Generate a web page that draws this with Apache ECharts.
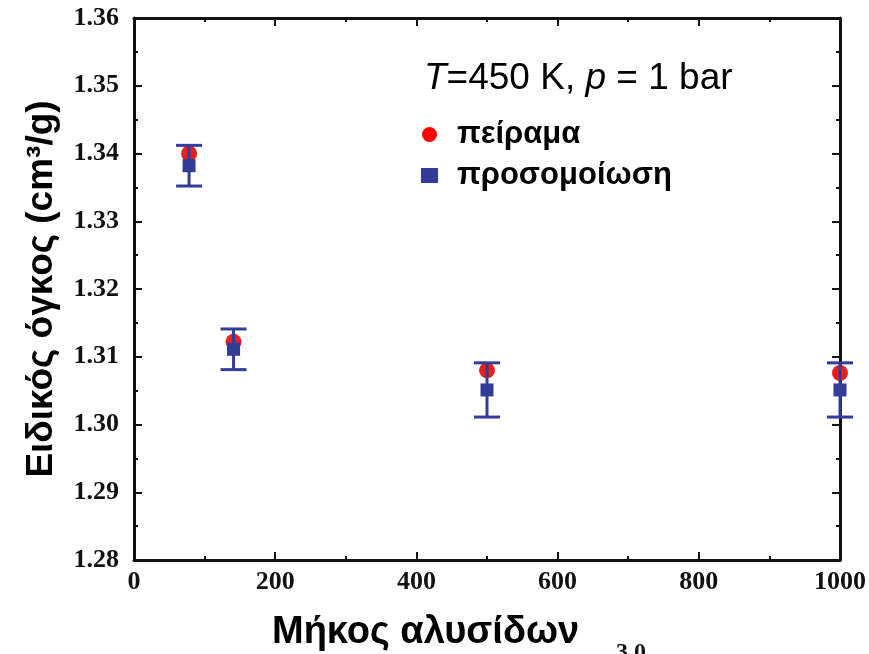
<!DOCTYPE html>
<html>
<head>
<meta charset="utf-8">
<script src="https://cdn.jsdelivr.net/npm/echarts@6/dist/echarts.min.js"></script>
<style>
  html, body { margin: 0; padding: 0; background: #fff; }
  #main { width: 869px; height: 654px; }
</style>
</head>
<body>
<div id="main"></div>
<script>
// chain length and specific volume values
var chainLength = [78, 141, 500, 1000];
var experiment = [1.3400, 1.3122, 1.3080, 1.3076];
var simulation = [1.3382, 1.3111, 1.3051, 1.3051];
var simError = [0.003, 0.003, 0.004, 0.004];
var xTicks = [0, 200, 400, 600, 800, 1000];
var yTicks = [1.28, 1.29, 1.30, 1.31, 1.32, 1.33, 1.34, 1.35, 1.36];

var myChart = echarts.init(document.getElementById('main'));

var expData = chainLength.map(function (x, i) { return [x, experiment[i]]; });
var simData = chainLength.map(function (x, i) { return [x, simulation[i]]; });
var errData = chainLength.map(function (x, i) {
    return [x, simulation[i] - simError[i], simulation[i] + simError[i]];
});

var blue = '#333c99';
var tickFont = { fontFamily: 'Liberation Serif', fontWeight: 'bold', fontSize: 26, color: '#111' };

function axisCommon(show) {
    return {
        axisLine: { show: true, onZero: false, lineStyle: { color: '#111', width: 3 } },
        axisTick: { show: true, inside: true, length: 8, lineStyle: { color: '#111', width: 2 } },
        minorTick: { show: true, splitNumber: 2, length: 4, lineStyle: { color: '#111', width: 2 } },
        splitLine: { show: false },
        axisLabel: show ? tickFont : { show: false }
    };
}

var option = {
    backgroundColor: '#fff',
    animation: false,
    grid: { left: 134, right: 28, top: 18, bottom: 94 },
    xAxis: [
        Object.assign({ type: 'value', min: 0, max: 1000, interval: 200, position: 'bottom' }, axisCommon(true), {
            axisLabel: Object.assign({ margin: 9, formatter: function (v) { return xTicks.indexOf(v) >= 0 ? v : ''; } }, tickFont)
        }),
        Object.assign({ type: 'value', min: 0, max: 1000, interval: 200, position: 'top' }, axisCommon(false))
    ],
    yAxis: [
        Object.assign({ type: 'value', min: 1.28, max: 1.36, interval: 0.01, position: 'left' }, axisCommon(true), {
            axisLabel: Object.assign({ margin: 15, formatter: function (v) {
                var t = yTicks.filter(function (y) { return Math.abs(y - v) < 1e-6; });
                return t.length ? t[0].toFixed(2) : '';
            } }, tickFont),
            name: 'Ειδικός όγκος (cm³/g)',
            nameLocation: 'middle',
            nameGap: 74,
            nameTextStyle: { fontFamily: 'Liberation Sans', fontWeight: 'bold', fontSize: 37, color: '#000' }
        }),
        Object.assign({ type: 'value', min: 1.28, max: 1.36, interval: 0.01, position: 'right' }, axisCommon(false))
    ],
    legend: {
        orient: 'vertical',
        left: 416,
        top: 114,
        itemGap: 10,
        itemWidth: 17,
        itemHeight: 15,
        data: [
            { name: 'πείραμα', icon: 'circle', itemStyle: { color: '#ff0000' } },
            { name: 'προσομοίωση', icon: 'rect', itemStyle: { color: blue } }
        ],
        textStyle: { fontFamily: 'Liberation Sans', fontWeight: 'bold', fontSize: 31, color: '#000', padding: [0, 0, 0, 14] }
    },
    graphic: [
        {
            type: 'text', left: 424, top: 60,
            style: {
                text: '{i|T}=450 K, {i|p} = 1 bar',
                font: '37px "Liberation Sans"',
                fill: '#000',
                rich: { i: { fontStyle: 'italic', fontSize: 37, fontFamily: 'Liberation Sans' } }
            }
        },
        {
            type: 'text', left: 272, top: 614,
            style: { text: 'Μήκος αλυσίδων', font: 'bold 38px "Liberation Sans"', fill: '#000' }
        },
        {
            type: 'text', left: 616, top: 641,
            style: { text: '3.0', font: 'bold 24px "Liberation Serif"', fill: '#111' }
        }
    ],
    series: [
        {
            name: 'πείραμα',
            type: 'scatter',
            symbol: 'circle',
            symbolSize: 16,
            itemStyle: { color: '#e8201c', opacity: 1 },
            data: expData,
            z: 2
        },
        {
            name: 'errors',
            type: 'custom',
            data: errData,
            z: 3,
            renderItem: function (params, api) {
                var lo = api.coord([api.value(0), api.value(1)]);
                var hi = api.coord([api.value(0), api.value(2)]);
                var w = 13;
                var st = { stroke: blue, lineWidth: 3 };
                return {
                    type: 'group',
                    children: [
                        { type: 'line', shape: { x1: lo[0], y1: lo[1], x2: hi[0], y2: hi[1] }, style: st },
                        { type: 'line', shape: { x1: lo[0] - w, y1: lo[1], x2: lo[0] + w, y2: lo[1] }, style: st },
                        { type: 'line', shape: { x1: hi[0] - w, y1: hi[1], x2: hi[0] + w, y2: hi[1] }, style: st }
                    ]
                };
            }
        },
        {
            name: 'προσομοίωση',
            type: 'scatter',
            symbol: 'rect',
            symbolSize: 13,
            itemStyle: { color: blue, opacity: 1 },
            data: simData,
            z: 4
        }
    ]
};

myChart.setOption(option);
</script>
</body>
</html>
